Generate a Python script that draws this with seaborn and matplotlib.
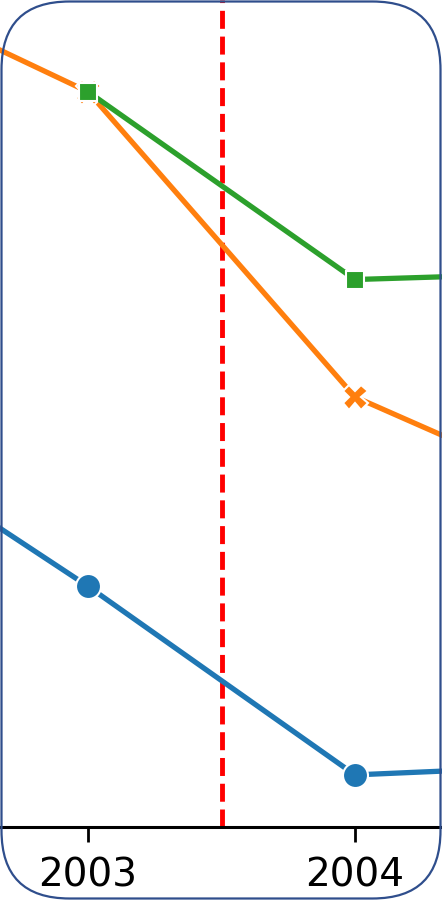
import numpy as np
import pandas as pd
import matplotlib
matplotlib.use("Agg")
import matplotlib.pyplot as plt
import matplotlib.patches as mpatches
from matplotlib.transforms import IdentityTransform
import seaborn as sns

# values (arbitrary units, axis hidden)
years_a = [2002, 2003, 2004, 2005]
blue_vals = [50.4, 29.1, 6.3, 7.7]
orange_vals = [104.2, 88.9, 52.0, 37.8]
years_c = [2003, 2004, 2005]
green_vals = [88.9, 66.2, 67.2]
cut_year = 2003.5

df = pd.concat([
    pd.DataFrame({'year': years_a, 'value': blue_vals, 'series': 'A'}),
    pd.DataFrame({'year': years_a, 'value': orange_vals, 'series': 'B'}),
    pd.DataFrame({'year': years_c, 'value': green_vals, 'series': 'C'}),
], ignore_index=True)

sns.set_style('white')
fig = plt.figure(figsize=(4.42, 9), dpi=100)
ax = fig.add_axes([0, 73 / 900, 1, 827 / 900])

sns.lineplot(data=df, x='year', y='value', hue='series', style='series',
             markers=True, dashes=False, linewidth=3.8, markersize=18,
             markeredgewidth=1.5, legend=False, ax=ax)
ax.axvline(cut_year, color='red', linestyle='--', linewidth=3.5, zorder=1)

ax.set_xlim(2002.670, 2004.326)
ax.set_ylim(0, 100)
ax.set_xticks([2003, 2004])
ax.set_xticklabels(['2003', '2004'])
ax.set_yticks([])
ax.set_xlabel('')
ax.set_ylabel('')
for s in ['top', 'left', 'right']:
    ax.spines[s].set_visible(False)
ax.spines['bottom'].set_linewidth(2.2)
ax.spines['bottom'].set_color('black')
ax.tick_params(axis='x', bottom=True, length=11, width=2, pad=10,
               labelsize=28, colors='black')

# rounded frame around the whole picture
frame = mpatches.FancyBboxPatch((1.5, 1.5), 439, 897,
                                boxstyle='round,pad=0,rounding_size=68',
                                transform=IdentityTransform(), fill=False,
                                edgecolor='#2f4e8c', linewidth=1.6)
fig.patches.append(frame)

fig.savefig('out.png', dpi=100)
